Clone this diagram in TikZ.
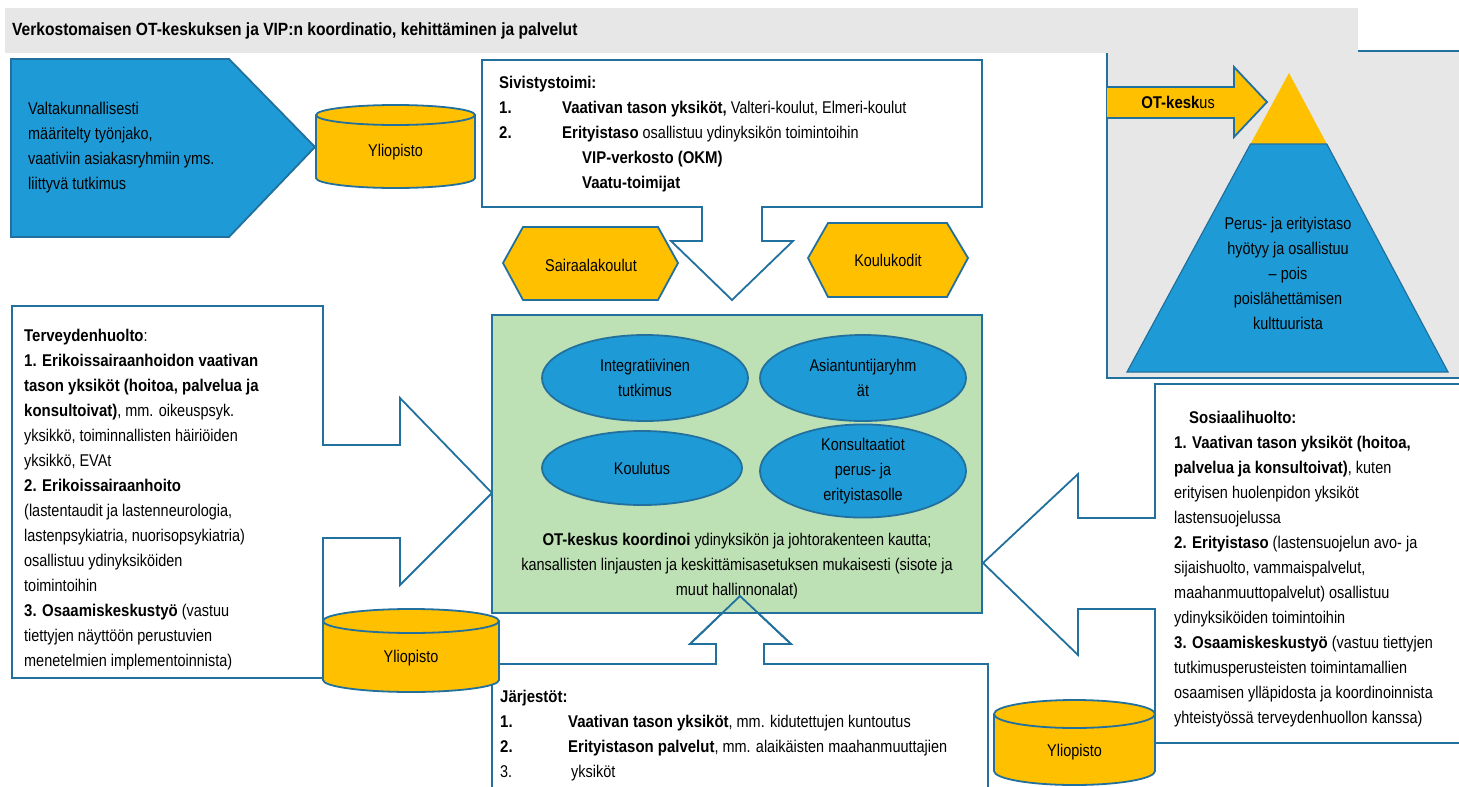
\documentclass[tikz,border=0pt]{standalone}
\usepackage{fontspec}
\setmainfont{Liberation Sans}[FakeStretch=0.85,BoldFeatures={FakeStretch=0.88}]
\usetikzlibrary{shapes.geometric}
\definecolor{otblue}{RGB}{30,155,214}
\definecolor{otedge}{RGB}{33,112,158}
\definecolor{otgold}{RGB}{255,192,0}
\definecolor{otgreen}{RGB}{189,224,181}
\definecolor{otgrey}{RGB}{231,231,231}
\tikzset{
  edge/.style={draw=otedge,line width=1.8pt},
  callout/.style={edge,fill=white},
  txt/.style={inner sep=0pt,font=\fontsize{17}{25}\selectfont},
  lefttxt/.style={txt,align=left,anchor=west},
  midtxt/.style={txt,align=center},
  blob/.style={edge,fill=otblue,ellipse,txt,align=center},
}

\begin{document}
\begin{tikzpicture}[x=1pt,y=-1pt]
  \useasboundingbox (0,0) rectangle (1459,787);
  \clip (0,0) rectangle (1459,787);

  \begin{scope}
    \filldraw[edge,fill=otgrey] (1107,51) rectangle (1480,378);
    \fill[otgrey] (5,8) rectangle (1358,53);
    \node[txt,anchor=west,font=\fontsize{17.7}{25}\selectfont\bfseries] (title) at (12,31)
      {Verkostomaisen OT-keskuksen ja VIP:n koordinatio, kehittäminen ja palvelut};
    \filldraw[edge,fill=otgold] (1107,87) -- (1234,87) -- (1234,67) -- (1267,102)
      -- (1234,137) -- (1234,118) -- (1107,118);
    \node[midtxt] (otk) at (1178,102) {\textbf{OT-kesk}us};
    \fill[otgold] (1289,73) -- (1326.8,144) -- (1250.5,144) -- cycle;
    \filldraw[draw=otedge,line width=1.2pt,fill=otblue] (1250.5,144) -- (1326.8,144)
      -- (1448,372) -- (1127,372) -- cycle;
    \node[midtxt] (pyramid) at (1288,273)
      {Perus- ja erityistaso\\hyötyy ja osallistuu\\– pois\\poislähettämisen\\kulttuurista};
  \end{scope}

  \filldraw[edge,fill=otblue] (11,59) -- (229,59) -- (315,147) -- (229,237) -- (11,237) -- cycle;
  \node[lefttxt] (natl) at (28,148)
    {Valtakunnallisesti\\määritelty työnjako,\\vaativiin asiakasryhmiin yms.\\liittyvä tutkimus};

  \def\sivpath{(482,60) -- (982,60) -- (982,207) -- (762,207) -- (762,241) -- (793,241)
    -- (732,300) -- (671,241) -- (702,241) -- (702,207) -- (482,207) -- cycle}
  \def\terpath{(12,306) -- (323,306) -- (323,445) -- (400,445) -- (400,398) -- (492,493)
    -- (400,585) -- (400,538) -- (323,538) -- (323,678) -- (12,678) -- cycle}
  \def\sospath{(1480,384) -- (1155,384) -- (1155,518) -- (1078,518) -- (1078,474)
    -- (983,563) -- (1078,655) -- (1078,609) -- (1155,609) -- (1155,743) -- (1480,743)}
  \def\jarpath{(492,800) -- (492,664) -- (716,664) -- (716,644) -- (690,644) -- (740,596)
    -- (791,644) -- (764,644) -- (764,664) -- (988,664) -- (988,800)}
  \foreach \p in {\sivpath,\terpath,\sospath,\jarpath}
    \filldraw[callout] \p;

  \filldraw[edge,fill=otgreen] (492,315) rectangle (982,613);
  \draw[edge] \jarpath;

  \node[blob,minimum width=206,minimum height=86] (integr) at (645,378) {Integratiivinen\\tutkimus};
  \node[blob,minimum width=206,minimum height=86] (expert) at (863,378) {Asiantuntijaryhm\\ät};
  \node[blob,minimum width=200,minimum height=74] (train) at (642,468) {Koulutus};
  \node[blob,minimum width=206,minimum height=82] (consult) at (863,471)
    {Konsultaatiot\\perus- ja\\erityistasolle};
  \node[midtxt] (coord) at (737,566)
    {\textbf{OT-keskus koordinoi} ydinyksikön ja johtorakenteen kautta;\\
     kansallisten linjausten ja keskittämisasetuksen mukaisesti (sisote ja\\
     muut hallinnonalat)};

  \filldraw[edge,fill=otgold] (503,263) -- (523,227) -- (658,227) -- (678,263)
    -- (658,300) -- (523,300) -- cycle;
  \node[midtxt] (hospital) at (591,265) {Sairaalakoulut};
  \filldraw[edge,fill=otgold] (808,258) -- (828,223) -- (947,223) -- (968,258)
    -- (947,297) -- (828,297) -- cycle;
  \node[midtxt] (reform) at (888,260) {Koulukodit};

  \node[lefttxt] (sivis) at (499,134)
    {\textbf{Sivistystoimi:}\\
     \makebox[63pt][l]{\textbf{1.}}\textbf{Vaativan tason yksiköt,} Valteri-koulut, Elmeri-koulut\\
     \makebox[63pt][l]{\textbf{2.}}\textbf{Erityistaso} osallistuu ydinyksikön toimintoihin\\
     \hspace*{83pt}\textbf{VIP-verkosto (OKM)}\\
     \hspace*{83pt}\textbf{Vaatu-toimijat}};

  \node[lefttxt] (health) at (24,500)
    {\textbf{Terveydenhuolto}:\\
     \textbf{1. Erikoissairaanhoidon vaativan}\\
     \textbf{tason yksiköt (hoitoa, palvelua ja}\\
     \textbf{konsultoivat)}, mm. oikeuspsyk.\\
     yksikkö, toiminnallisten häiriöiden\\
     yksikkö, EVAt\\
     \textbf{2. Erikoissairaanhoito}\\
     (lastentaudit ja lastenneurologia,\\
     lastenpsykiatria, nuorisopsykiatria)\\
     osallistuu ydinyksiköiden\\
     toimintoihin\\
     \textbf{3. Osaamiskeskustyö} (vastuu\\
     tiettyjen näyttöön perustuvien\\
     menetelmien implementoinnista)};

  \node[lefttxt] (social) at (1174,569)
    {\hspace*{15pt}\textbf{Sosiaalihuolto:}\\
     \textbf{1. Vaativan tason yksiköt (hoitoa,}\\
     \textbf{palvelua ja konsultoivat)}, kuten\\
     erityisen huolenpidon yksiköt\\
     lastensuojelussa\\
     \textbf{2. Erityistaso} (lastensuojelun avo- ja\\
     sijaishuolto, vammaispalvelut,\\
     maahanmuuttopalvelut) osallistuu\\
     ydinyksiköiden toimintoihin\\
     \textbf{3. Osaamiskeskustyö} (vastuu tiettyjen\\
     tutkimusperusteisten toimintamallien\\
     osaamisen ylläpidosta ja koordinoinnista\\
     yhteistyössä terveydenhuollon kanssa)};

  \node[lefttxt] (ngo) at (500,735.5)
    {\textbf{Järjestöt:}\\
     \makebox[68pt][l]{\textbf{1.}}\textbf{Vaativan tason yksiköt}, mm. kidutettujen kuntoutus\\
     \makebox[68pt][l]{\textbf{2.}}\textbf{Erityistason palvelut}, mm. alaikäisten maahanmuuttajien\\
     \makebox[71pt][l]{3.}yksiköt};

  \foreach \n/\xl/\xr/\yt/\yb/\r in {uniA/316/475/115/178/10,uniB/323/499/621/680/12,uniC/994/1155/714/771/14} {
    \pgfmathsetmacro\xc{(\xl+\xr)/2}
    \pgfmathsetmacro\rx{(\xr-\xl)/2}
    \filldraw[edge,fill=otgold] (\xc,\yb) ellipse[x radius=\rx,y radius=\r];
    \fill[otgold] (\xl,\yt) rectangle (\xr,\yb);
    \draw[edge] (\xl,\yt) -- (\xl,\yb) (\xr,\yt) -- (\xr,\yb);
    \filldraw[edge,fill=otgold] (\xc,\yt) ellipse[x radius=\rx,y radius=\r];
    \node[midtxt] (\n) at (\xc,{(\yt+\yb)/2+\r-4}) {Yliopisto};
  }
\end{tikzpicture}
\end{document}
